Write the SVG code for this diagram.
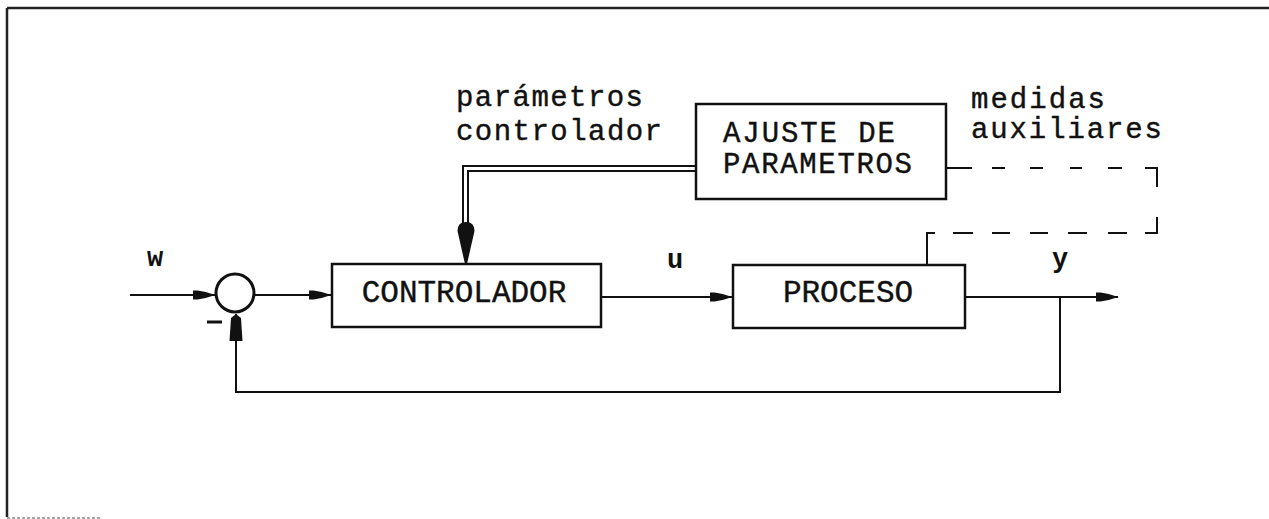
<svg xmlns="http://www.w3.org/2000/svg" width="1269" height="519" viewBox="0 0 1269 519">
<style>
.box{fill:none;stroke:#111;stroke-width:2.5}
.ln{fill:none;stroke:#111;stroke-width:2}
.t{font-family:"Liberation Mono","Courier New",monospace;font-size:31px;fill:#111;stroke:#111;stroke-width:0.4}
.t2{font-family:"Liberation Mono","Courier New",monospace;font-size:29px;fill:#111;stroke:#111;stroke-width:0.4}
.lab{font-family:"Liberation Mono","Courier New",monospace;font-size:27px;font-weight:bold;fill:#111}
</style>
<defs>
<marker id="ah" viewBox="-24 -6 26 12" refX="0" refY="0" markerWidth="26" markerHeight="12" markerUnits="userSpaceOnUse" orient="auto">
<path d="M0,0 C-6,-2 -14,-5 -22,-4.5 L-22,4.5 C-14,5 -6,2 0,0 Z" fill="#111"/>
</marker>
<marker id="ahBig" viewBox="-30 -8 32 16" refX="0" refY="0" markerWidth="32" markerHeight="16" markerUnits="userSpaceOnUse" orient="auto">
<path d="M0,0 L-4,-5 L-27,-6.5 L-27,6.5 L-4,5 Z" fill="#111"/>
</marker>
</defs>
<rect width="1269" height="519" fill="#fff"/>
<g id="frame">
<path d="M7,8 H1269" stroke="#222" stroke-width="2.5" fill="none"/>
<path d="M7,8 V517" stroke="#222" stroke-width="2.5" fill="none"/>
<path d="M7,518 H100" stroke="#888" stroke-width="1.5" stroke-dasharray="3 2" fill="none"/>
</g>
<g id="connectors">
<path class="ln" d="M130,295 H215" marker-end="url(#ah)"/>
<path class="ln" d="M255,295 H331" marker-end="url(#ah)"/>
<path class="ln" d="M602,297 H732" marker-end="url(#ah)"/>
<path class="ln" d="M966,297 H1118" marker-end="url(#ah)"/>
<path class="ln" d="M1060,297 V392 H236 V314" marker-end="url(#ahBig)"/>
<path class="ln" d="M695,166 H463 V226"/>
<path class="ln" d="M695,171 H468 V226"/>
<path d="M457.5,231 Q457.5,222 466,222 Q474.5,222 474.5,231 L467,264 L465,264 Z" fill="#111"/>
<path class="ln" d="M947,168 H972 M992,168 H1005 M1030,168 H1043 M1070,168 H1082 M1108,168 H1122 M1145,168 H1157 V187"/>
<path class="ln" d="M1157,217 V233 H1145 M1127,233 H1108 M1087,233 H1068 M1048,233 H1030 M1010,233 H992 M973,233 H953 M935,233 H927 V265"/>
</g>
<g id="sum">
<circle cx="235" cy="293" r="19" fill="#fff" stroke="#111" stroke-width="3"/>
<path d="M207,322 H222" stroke="#111" stroke-width="3"/>
</g>
<g id="controlador">
<rect class="box" x="332" y="264" width="269" height="63"/>
<text class="t" x="464" y="302" text-anchor="middle">CONTROLADOR</text>
</g>
<g id="proceso">
<rect class="box" x="733" y="265" width="232" height="63"/>
<text class="t" x="848" y="302" text-anchor="middle">PROCESO</text>
</g>
<g id="ajuste">
<rect class="box" x="696" y="104" width="250" height="95"/>
<text class="t2" x="723" y="142" textLength="172" lengthAdjust="spacing">AJUSTE DE</text>
<text class="t2" x="723" y="173" textLength="189" lengthAdjust="spacing">PARAMETROS</text>
</g>
<g id="labels">
<text class="t2" x="456" y="106" textLength="187" lengthAdjust="spacing">parámetros</text>
<text class="t2" x="456" y="140" textLength="206" lengthAdjust="spacing">controlador</text>
<text class="t2" x="971" y="108" textLength="134" lengthAdjust="spacing">medidas</text>
<text class="t2" x="971" y="138" textLength="191" lengthAdjust="spacing">auxiliares</text>
<text class="lab" x="155" y="266" text-anchor="middle">w</text>
<text class="lab" x="675" y="268" text-anchor="middle">u</text>
<text class="lab" x="1060" y="267" text-anchor="middle">y</text>
</g>
</svg>
